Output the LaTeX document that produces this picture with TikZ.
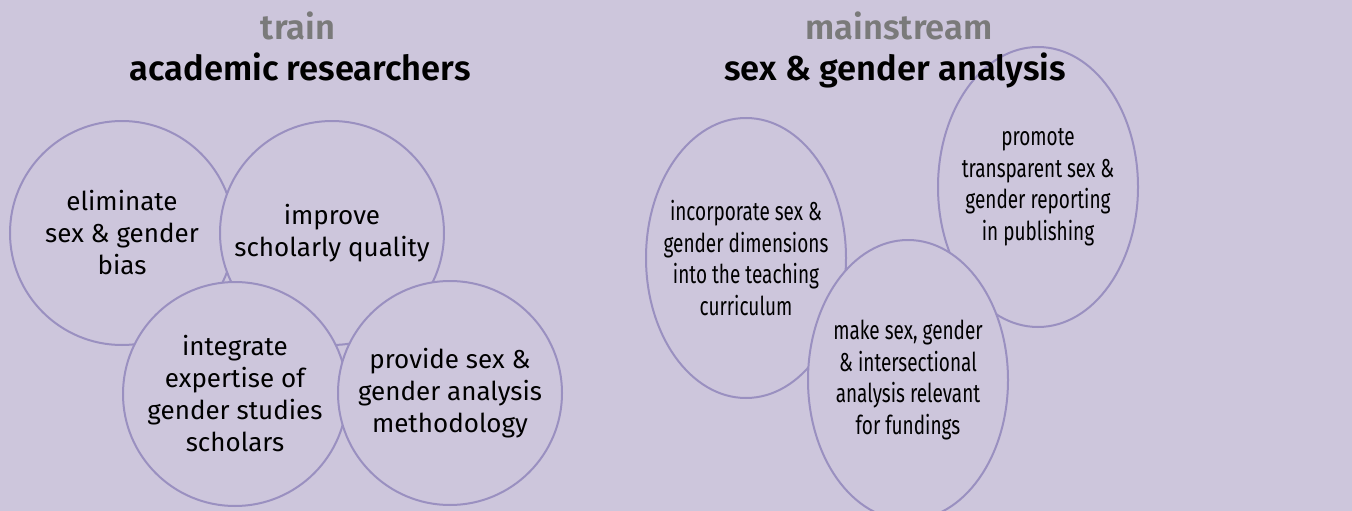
\documentclass[tikz,border=0pt]{standalone}
\usepackage{fontspec}
\setmainfont{Fira Sans}
\newfontfamily\condfont[FakeStretch=0.73]{Fira Sans}
\newfontfamily\headfont{Fira Sans SemiBold}
\usetikzlibrary{shapes.geometric}
\definecolor{bg}{HTML}{CDC6DC}
\definecolor{ring}{HTML}{9A90C0}
\definecolor{headgray}{HTML}{7A7A7A}
\tikzset{
  bubble/.style={circle, draw=ring, line width=2pt, fill=bg, minimum size=224pt, inner sep=0pt, align=center, font=\fontsize{26}{32}\selectfont},
  oval/.style={ellipse, draw=ring, line width=2pt, fill=bg, minimum width=200pt, minimum height=280pt, inner sep=0pt},
  ovaltext/.style={align=center, inner sep=0pt, font=\condfont\fontsize{26}{31.5}\selectfont},
  headsub/.style={font=\headfont\fontsize{34.5}{40}\selectfont, text=headgray, inner sep=0pt, anchor=base},
  headmain/.style={font=\headfont\fontsize{34.5}{40}\selectfont, text=black, inner sep=0pt, anchor=base}
}
\begin{document}
\begin{tikzpicture}[x=1pt,y=-1pt]
\fill[bg] (0,0) rectangle (1352,511);
\useasboundingbox (0,0) rectangle (1352,511);

\node[bubble] (c1) at (122,233) {eliminate\\sex \& gender\\bias};
\node[bubble] (c2) at (332,233) {improve\\scholarly quality};
\node[bubble] (c3) at (235,394) {integrate\\expertise of\\gender studies\\scholars};
\node[bubble] (c4) at (450,393) {provide sex \&\\gender analysis\\methodology};

\node[oval] (e1) at (746,258) {};
\node[ovaltext] (t1) at (e1.center) {incorporate sex \&\\gender dimensions\\into the teaching\\curriculum};
\node[oval] (e2) at (1038,187) {};
\node[ovaltext] (t2) at (e2.center) {promote\\transparent sex \&\\gender reporting\\in publishing};
\node[oval] (e3) at (908,380) {};
\node[ovaltext] (t3) at (e3.center) {make sex, gender\\\& intersectional\\analysis relevant\\for fundings};

\node[headsub] (h1a) at (298,40) {train};
\node[headmain] (h1b) at (300,81) {academic researchers};
\node[headsub] (h2a) at (899,40) {mainstream};
\node[headmain] (h2b) at (895,81) {sex \& gender analysis};
\end{tikzpicture}
\end{document}
